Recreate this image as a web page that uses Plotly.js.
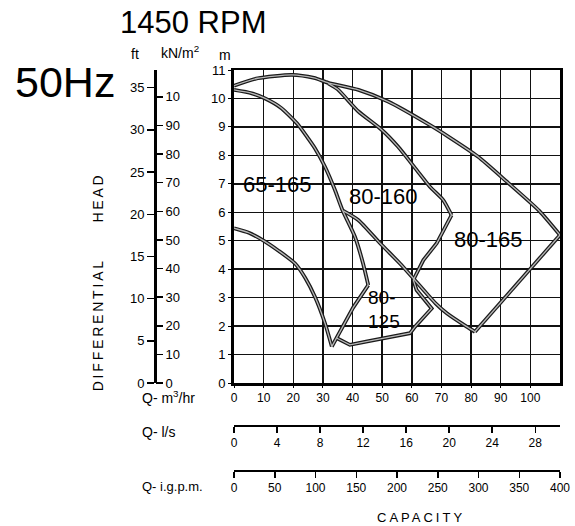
<!DOCTYPE html>
<html>
<head>
<meta charset="utf-8">
<script src="https://cdn.plot.ly/plotly-3.0.1.min.js"></script>
<style>html,body{margin:0;padding:0;background:#fff}#chart{width:575px;height:526px}</style>
</head>
<body>
<div id="chart"></div>
<script>
// ---- tick values / labels ----
const capacity_ticks_m3h = [0, 10, 20, 30, 40, 50, 60, 70, 80, 90, 100];
const head_ticks_m = [0, 1, 2, 3, 4, 5, 6, 7, 8, 9, 10, 11];
const head_ticks_ft = [0, 5, 10, 15, 20, 25, 30, 35];
const head_ticks_kn = [0, 10, 20, 30, 40, 50, 60, 70, 80, 90, 100];
const head_labels_kn = ['0', '10', '20', '30', '40', '50', '60', '70', '80', '90', '10'];
const flow_ticks_ls = [0, 4, 8, 12, 16, 20, 24, 28];
const flow_ticks_igpm = [0, 50, 100, 150, 200, 250, 300, 350, 400];

// ---- curves (Q in m3/hr, H in m) ----
const q_65165_top = [0, 6, 10.5, 16, 21.7, 25, 27.3, 30.7, 34, 36.5, 40.8, 43.5, 45.3];
const h_65165_top = [10.3, 10.18, 10.0, 9.66, 9.07, 8.6, 8.25, 7.6, 6.8, 6.1, 5.14, 4.22, 3.44];
const q_65165_edge = [45.3, 40.2, 33];
const h_65165_edge = [3.44, 2.65, 1.28];
const q_65165_low = [33, 30.7, 27.3, 24, 20.6, 15, 10.5, 5, 0];
const h_65165_low = [1.28, 2.1, 3.03, 3.7, 4.2, 4.65, 4.97, 5.28, 5.44];
const q_80125_low = [34.6, 39.1, 45, 50.4, 56, 59.4, 61.1, 66.7, 61.6, 60.5];
const h_80125_low = [1.58, 1.34, 1.46, 1.57, 1.66, 1.75, 1.98, 2.62, 3.27, 3.62];
const q_80160_edge = [60.5, 63.9, 68.4, 73.4];
const h_80160_edge = [3.62, 4.32, 4.91, 5.9];
const q_80160_top = [73.4, 70.6, 66.1, 61.6, 55.4, 49.8, 41.9, 35, 31.8];
const h_80160_top = [5.9, 6.43, 6.9, 7.49, 8.3, 8.9, 9.55, 10.32, 10.53];
const q_80165_top = [0, 8, 19.5, 27, 31.8, 42, 52, 66, 72.3, 82.4, 92, 103, 110];
const h_80165_top = [10.45, 10.71, 10.83, 10.72, 10.55, 10.3, 9.89, 9.07, 8.66, 7.95, 7.08, 6.05, 5.2];
const q_80165_edge = [110, 92, 81.3];
const h_80165_edge = [5.2, 3.05, 1.8];
const q_80165_low = [81.3, 78.5, 71.8, 68, 61, 56, 49.3, 41.9, 36.9];
const h_80165_low = [1.8, 1.98, 2.45, 2.8, 3.62, 4.2, 4.91, 5.73, 6.05];

// ---- region labels ----
const label_text = ['65-165', '80-160', '80-165'];
const label_q = [14.7, 50.3, 86];
const label_h = [6.96, 6.54, 5.06];
const label2_text = ['80-', '125'];
const label2_q = [44.9, 44.9];
const label2_h = [3.0, 2.16];

const F = '"Liberation Sans", Arial, Helvetica, sans-serif';
const W = 575, H = 526;
const px = v => v / W;
const py = v => 1 - v / H;

const segments = [
  [q_65165_top, h_65165_top, 'spline'],
  [q_65165_edge, h_65165_edge, 'linear'],
  [q_65165_low, h_65165_low, 'spline'],
  [q_80125_low, h_80125_low, 'linear'],
  [q_80160_edge, h_80160_edge, 'linear'],
  [q_80160_top, h_80160_top, 'spline'],
  [q_80165_top, h_80165_top, 'spline'],
  [q_80165_edge, h_80165_edge, 'linear'],
  [q_80165_low, h_80165_low, 'spline']
];

const traces = [];
segments.forEach(s => traces.push({
  x: s[0], y: s[1], mode: 'lines', xaxis: 'x', yaxis: 'y',
  line: {color: '#1a1a1a', width: 3.8, shape: s[2], smoothing: 0.6},
  hoverinfo: 'skip', showlegend: false
}));
segments.forEach(s => traces.push({
  x: s[0], y: s[1], mode: 'lines', xaxis: 'x', yaxis: 'y',
  line: {color: '#b8b8b8', width: 1.3, shape: s[2], smoothing: 0.6},
  hoverinfo: 'skip', showlegend: false
}));
// carriers for the extra scales (invisible)
traces.push({x: head_ticks_ft.map(() => null), y: head_ticks_ft, xaxis: 'x', yaxis: 'y2', mode: 'markers', marker: {opacity: 0}, hoverinfo: 'skip', showlegend: false});
traces.push({x: head_ticks_kn.map(() => null), y: head_ticks_kn, xaxis: 'x', yaxis: 'y3', mode: 'markers', marker: {opacity: 0}, hoverinfo: 'skip', showlegend: false});
traces.push({x: flow_ticks_ls, y: flow_ticks_ls.map(() => null), xaxis: 'x2', yaxis: 'y', mode: 'markers', marker: {opacity: 0}, hoverinfo: 'skip', showlegend: false});
traces.push({x: flow_ticks_igpm, y: flow_ticks_igpm.map(() => null), xaxis: 'x3', yaxis: 'y', mode: 'markers', marker: {opacity: 0}, hoverinfo: 'skip', showlegend: false});

const dom_x = [px(234), px(560)];
const dom_y = [py(383), py(70)];

const annotations = [];
label_text.forEach((t, i) => annotations.push({
  text: t, x: label_q[i], y: label_h[i], xref: 'x', yref: 'y', showarrow: false,
  xanchor: 'center', yanchor: 'middle',
  font: {family: F, size: 22, color: '#000'}
}));
label2_text.forEach((t, i) => annotations.push({
  text: t, x: label2_q[i], y: label2_h[i], xref: 'x', yref: 'y', showarrow: false,
  xanchor: 'left', yanchor: 'middle', borderpad: 0, font: {family: F, size: 19, color: '#000'}
}));

function paperText(text, x, y, size, extra) {
  return Object.assign({text: text, x: px(x), y: py(y), xref: 'paper', yref: 'paper', showarrow: false,
    xanchor: 'center', yanchor: 'middle',
    font: {family: F, size: size, color: '#000'}}, extra || {});
}
annotations.push(paperText('1450 RPM', 193, 22, 31));
annotations.push(paperText('50Hz', 65, 82, 43));
annotations.push(paperText('ft', 135, 54, 14));
annotations.push(paperText('kN/m<sup>2</sup>', 180, 52, 14));
annotations.push(paperText('m', 225, 55, 14));
annotations.push(paperText('DIFFERENTIAL', 97.5, 325, 14, {textangle: -90}));
annotations.push(paperText('HEAD', 97.5, 197.5, 14, {textangle: -90}));
annotations.push(paperText('Q- m<sup>3</sup>/hr', 140, 397, 14, {xanchor: 'left'}));
annotations.push(paperText('Q- l/s', 140, 432, 14, {xanchor: 'left'}));
annotations.push(paperText('Q- i.g.p.m.', 140, 486, 13, {xanchor: 'left'}));
annotations.push(paperText('CAPACITY', 421, 517, 13));

const axisBase = {showgrid: false, zeroline: false, fixedrange: true, tickcolor: '#000', linecolor: '#000', tickfont: {family: F, size: 12, color: '#000'}};

const layout = {
  width: W, height: H,
  margin: {l: 0, r: 0, t: 0, b: 0, pad: 0},
  paper_bgcolor: '#fff', plot_bgcolor: '#fff',
  showlegend: false, hovermode: false,
  font: {family: F, color: '#000'},
  xaxis: Object.assign({}, axisBase, {
    domain: dom_x, range: [0, 110], tickmode: 'array', tickvals: capacity_ticks_m3h,
    showgrid: true, gridcolor: '#111', gridwidth: 1.4,
    showline: true, linewidth: 2.5, mirror: true, ticks: 'outside', ticklen: 2, tickfont: {family: F, size: 12, color: '#000'}
  }),
  yaxis: Object.assign({}, axisBase, {
    domain: dom_y, range: [0, 11], tickmode: 'array', tickvals: head_ticks_m,
    showgrid: true, gridcolor: '#111', gridwidth: 1.4,
    showline: true, linewidth: 3, mirror: true, ticks: 'outside', ticklen: 3, tickfont: {family: F, size: 13, color: '#000'}
  }),
  yaxis2: Object.assign({}, axisBase, {
    overlaying: 'y', anchor: 'free', position: px(155), side: 'left',
    range: [0, 37.1], tickmode: 'array', tickvals: head_ticks_ft,
    showline: true, linewidth: 3, ticks: 'outside', ticklen: 7, tickwidth: 1.5, tickfont: {family: F, size: 13, color: '#000'}
  }),
  yaxis3: Object.assign({}, axisBase, {
    overlaying: 'y', anchor: 'free', position: px(155), side: 'right',
    range: [0, 109.4], tickmode: 'array', tickvals: head_ticks_kn, ticktext: head_labels_kn,
    showline: false, ticks: 'outside', ticklen: 7, tickwidth: 1.5, tickfont: {family: F, size: 13, color: '#000'}
  }),
  xaxis2: Object.assign({}, axisBase, {
    overlaying: 'x', anchor: 'free', position: py(426), side: 'bottom',
    range: [0, 30.3], tickmode: 'array', tickvals: flow_ticks_ls,
    showline: true, linewidth: 2, ticks: 'outside', ticklen: 6, tickwidth: 1.5
  }),
  xaxis3: Object.assign({}, axisBase, {
    overlaying: 'x', anchor: 'free', position: py(471), side: 'bottom',
    range: [0, 400], tickmode: 'array', tickvals: flow_ticks_igpm,
    showline: true, linewidth: 2, ticks: 'outside', ticklen: 6, tickwidth: 1.5
  }),
  annotations: annotations
};

Plotly.newPlot('chart', traces, layout, {staticPlot: true, displayModeBar: false}).then(gd => {
  gd.querySelectorAll('text.annotation-text').forEach(t => {
    const s = t.textContent;
    if (s === 'DIFFERENTIAL' || s === 'HEAD') t.style.letterSpacing = '2.8px';
    if (s === 'CAPACITY') t.style.letterSpacing = '3px';
  });
});
</script>
</body>
</html>
